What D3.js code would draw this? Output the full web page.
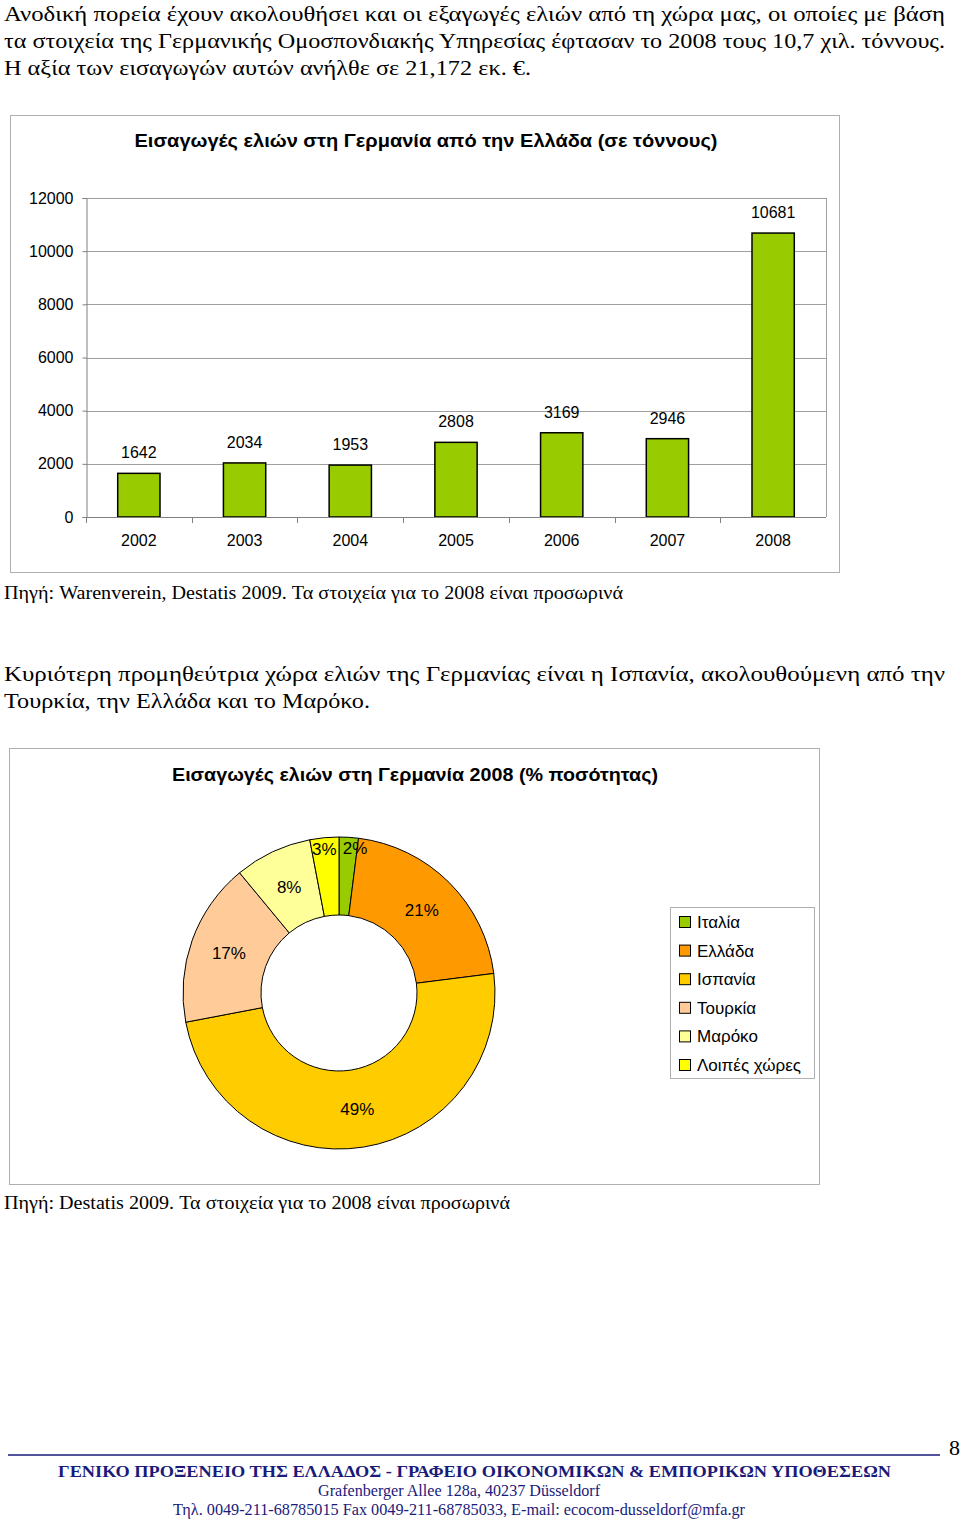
<!DOCTYPE html>
<html>
<head>
<meta charset="utf-8">
<script src="https://cdn.jsdelivr.net/npm/d3@7"></script>
<style>
  body { margin: 0; background: #fff; }
  svg { display: block; }
</style>
</head>
<body>
<svg id="page"></svg>
<script>
// bar chart data
const years = ['2002', '2003', '2004', '2005', '2006', '2007', '2008'];
const tonnes = [1642, 2034, 1953, 2808, 3169, 2946, 10681];
const yTicks = [0, 2000, 4000, 6000, 8000, 10000, 12000];

// donut data (clockwise from the top)
const countries = ['Ιταλία', 'Ελλάδα', 'Ισπανία', 'Τουρκία', 'Μαρόκο', 'Λοιπές χώρες'];
const shares = [2, 21, 49, 17, 8, 3];
const colors = ['#99cc00', '#ff9900', '#ffcc00', '#ffcc99', '#ffff99', '#ffff00'];

const serif = '"Liberation Serif", "Times New Roman", serif';
const sans = '"Liberation Sans", Arial, sans-serif';
const navy = '#1a1a7a';

const svg = d3.select('#page')
    .attr('width', 960)
    .attr('height', 1526);

// text lines with fixed widths, as laid out in the document
function line(txt, x, y, size, width, opts = {}) {
    const t = svg.append('text')
        .attr('x', x)
        .attr('y', y)
        .attr('font-family', opts.family || serif)
        .attr('font-size', size)
        .attr('font-weight', opts.weight || 'normal')
        .attr('fill', opts.fill || '#000')
        .text(txt);
    if (width) {
        t.attr('textLength', width).attr('lengthAdjust', 'spacingAndGlyphs');
    }
    if (opts.anchor) t.attr('text-anchor', opts.anchor);
    return t;
}

line('Ανοδική πορεία έχουν ακολουθήσει και οι εξαγωγές ελιών από τη χώρα μας, οι οποίες με βάση', 4, 21, 22, 941);
line('τα στοιχεία της Γερμανικής Ομοσπονδιακής Υπηρεσίας έφτασαν το 2008 τους 10,7 χιλ. τόννους.', 4, 48, 22, 941);
line('Η αξία των εισαγωγών αυτών ανήλθε σε 21,172 εκ. €.', 4, 75, 22, 527);

// ---- bar chart ----
svg.append('rect')
    .attr('x', 10.5).attr('y', 115.5)
    .attr('width', 829).attr('height', 457)
    .attr('fill', 'none').attr('stroke', '#b0b0b0');

line('Εισαγωγές ελιών στη Γερμανία από την Ελλάδα (σε τόννους)', 426, 147, 19, 583,
    { family: sans, weight: 'bold', anchor: 'middle' });

const x = d3.scaleBand().domain(years).range([86, 826]);
const y = d3.scaleLinear().domain([0, 12000]).range([517, 198]);

const bar = svg.append('g');

bar.append('g')
    .selectAll('line')
    .data(yTicks.slice(1))
    .enter()
    .append('line')
    .attr('x1', 86).attr('x2', 826)
    .attr('y1', d => Math.round(y(d)) + 0.5)
    .attr('y2', d => Math.round(y(d)) + 0.5)
    .attr('stroke', '#a0a0a0');

bar.append('line')
    .attr('x1', 826.5).attr('x2', 826.5)
    .attr('y1', y(12000)).attr('y2', y(0))
    .attr('stroke', '#a0a0a0');

const yAxis = bar.append('g')
    .attr('transform', 'translate(86.5,0)')
    .call(d3.axisLeft(y).tickValues(yTicks).tickSize(4).tickPadding(9).tickFormat(d3.format('d')));
yAxis.selectAll('path, line').attr('stroke', '#808080');
yAxis.selectAll('text')
    .attr('font-family', sans).attr('font-size', 16).attr('fill', '#000');

bar.selectAll('rect.bar')
    .data(tonnes)
    .enter()
    .append('rect')
    .attr('class', 'bar')
    .attr('x', (d, i) => x(years[i]) + x.bandwidth() * 0.3)
    .attr('y', d => y(d))
    .attr('width', x.bandwidth() * 0.4)
    .attr('height', d => y(0) - y(d))
    .attr('fill', '#99cc00')
    .attr('stroke', '#000')
    .attr('stroke-width', 1.5);

bar.selectAll('text.val')
    .data(tonnes)
    .enter()
    .append('text')
    .attr('class', 'val')
    .attr('x', (d, i) => x(years[i]) + x.bandwidth() / 2)
    .attr('y', d => y(d) - 15)
    .attr('text-anchor', 'middle')
    .attr('font-family', sans)
    .attr('font-size', 16)
    .text(d => d);

const xAxis = bar.append('g')
    .attr('transform', 'translate(0,517.5)')
    .call(d3.axisBottom(x).tickSize(0).tickPadding(17));
xAxis.select('path').attr('stroke', '#808080').attr('d', 'M86,0H826');
xAxis.selectAll('text')
    .attr('font-family', sans).attr('font-size', 16).attr('fill', '#000');

bar.append('g')
    .selectAll('line')
    .data(years)
    .enter()
    .append('line')
    .attr('x1', d => Math.round(x(d)) + 0.5)
    .attr('x2', d => Math.round(x(d)) + 0.5)
    .attr('y1', 517).attr('y2', 523)
    .attr('stroke', '#808080');

line('Πηγή: Warenverein, Destatis 2009. Τα στοιχεία για το 2008 είναι προσωρινά', 4, 599, 19, 619);

line('Κυριότερη προμηθεύτρια χώρα ελιών της Γερμανίας είναι η Ισπανία, ακολουθούμενη από την', 4, 681, 22, 941);
line('Τουρκία, την Ελλάδα και το Μαρόκο.', 4, 708, 22, 366);

// ---- donut chart ----
svg.append('rect')
    .attr('x', 9.5).attr('y', 748.5)
    .attr('width', 810).attr('height', 436)
    .attr('fill', 'none').attr('stroke', '#b0b0b0');

line('Εισαγωγές ελιών στη Γερμανία 2008 (% ποσότητας)', 415, 781, 18, 486,
    { family: sans, weight: 'bold', anchor: 'middle' });

const pie = d3.pie().value(d => d).sort(null);
const arc = d3.arc().innerRadius(78).outerRadius(156);
const labelArc = d3.arc().innerRadius(117).outerRadius(117);
const smallArc = d3.arc().innerRadius(145).outerRadius(145);

const donut = svg.append('g')
    .attr('transform', 'translate(339,993)');

const slices = pie(shares);

donut.append('g')
    .selectAll('path')
    .data(slices)
    .enter()
    .append('path')
    .attr('d', arc)
    .attr('fill', (d, i) => colors[i])
    .attr('stroke', '#000')
    .style('stroke-width', '1px');

donut.append('g')
    .selectAll('text')
    .data(slices)
    .enter()
    .append('text')
    .attr('transform', d => {
        if (d.data < 5) {
            const c = smallArc.centroid(d);
            const nudge = c[0] > 0 ? 7 : -1;
            return `translate(${c[0] + nudge},${c[1]})`;
        }
        return `translate(${labelArc.centroid(d)})`;
    })
    .attr('dy', '0.35em')
    .attr('text-anchor', 'middle')
    .attr('font-family', sans)
    .attr('font-size', 17)
    .attr('fill', '#000')
    .text(d => `${d.data}%`);

// legend
const legend = svg.append('g');
legend.append('rect')
    .attr('x', 670.5).attr('y', 907.5)
    .attr('width', 144).attr('height', 171)
    .attr('fill', '#fff').attr('stroke', '#b0b0b0');

const rows = legend.selectAll('g.item')
    .data(countries)
    .enter()
    .append('g')
    .attr('class', 'item')
    .attr('transform', (d, i) => `translate(0,${922 + i * 28.6})`);

rows.append('rect')
    .attr('x', 679.5).attr('y', -5.5)
    .attr('width', 11).attr('height', 11)
    .attr('fill', (d, i) => colors[i])
    .attr('stroke', '#000');

rows.append('text')
    .attr('x', 697)
    .attr('dy', '0.35em')
    .attr('font-family', sans)
    .attr('font-size', 17)
    .text(d => d);

line('Πηγή: Destatis 2009. Τα στοιχεία για το 2008 είναι προσωρινά', 4, 1209, 19, 506);

// ---- footer ----
svg.append('line')
    .attr('x1', 8).attr('x2', 940)
    .attr('y1', 1455).attr('y2', 1455)
    .attr('stroke', navy).attr('stroke-width', 1.5);

line('8', 949, 1455, 22, null);
line('ΓΕΝΙΚΟ ΠΡΟΞΕΝΕΙΟ ΤΗΣ ΕΛΛΑΔΟΣ - ΓΡΑΦΕΙΟ ΟΙΚΟΝΟΜΙΚΩΝ &  ΕΜΠΟΡΙΚΩΝ ΥΠΟΘΕΣΕΩΝ', 58, 1477, 17, 833,
    { weight: 'bold', fill: navy });
line('Grafenberger Allee 128a, 40237 Düsseldorf', 318, 1496, 16, 282, { fill: navy });
line('Τηλ. 0049-211-68785015  Fax 0049-211-68785033, E-mail: ecocom-dusseldorf@mfa.gr', 173, 1515, 16, 572,
    { fill: navy });
</script>
</body>
</html>
